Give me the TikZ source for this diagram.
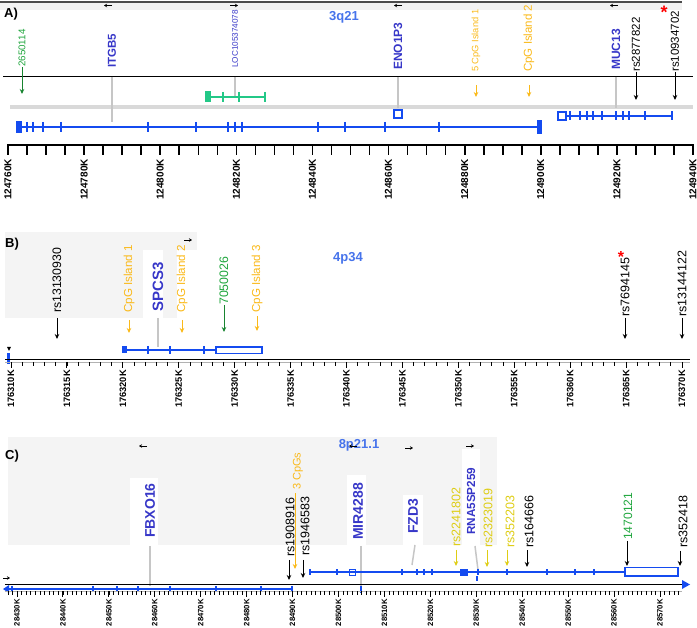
\documentclass[tikz,border=0pt]{standalone}
\usepackage{fontspec}
\setmainfont{Liberation Sans}
\usetikzlibrary{arrows.meta}

\definecolor{genetxt}{RGB}{55,55,200}
\definecolor{geneblue}{RGB}{20,75,240}
\definecolor{bandtxt}{RGB}{70,115,235}
\definecolor{cpggold}{RGB}{250,185,25}
\definecolor{snpyellow}{RGB}{222,205,20}
\definecolor{snpgreen}{RGB}{30,165,60}
\definecolor{exongreen}{RGB}{35,200,135}
\definecolor{panelgray}{RGB}{244,244,244}
\newcommand{\fsz}[1]{\fontsize{#1}{#1}\selectfont}

\begin{document}
\begin{tikzpicture}[x=1pt,y=-1pt,
 lbl/.style={rotate=90,anchor=west,inner sep=0pt},
 axlbl/.style={rotate=90,anchor=east,inner sep=0pt,font=\fsz{#1}\bfseries},
 hd/.style={font=\fsz{13}\bfseries,anchor=west,inner sep=0pt},
 band/.style={font=\fsz{13}\bfseries,text=bandtxt,inner sep=0pt},
 arr/.style={-{Stealth[length=5pt,width=4.5pt]},line width=1pt},
 strand/.style={-{Stealth[length=3pt,width=3.5pt]},line width=0.8pt},
 gline/.style={gray!45,line width=1.5pt},
 exon/.style={geneblue,line width=2pt}]
\useasboundingbox (0,0) rectangle (697,628);
% A) 3q21
\fill[gray!10] (0,2) rectangle (682,10);
\draw[gray!60!black,line width=1.5pt] (0,2) -- (682,2);
\node[hd] (hA) at (4,14) {A)};
\node[band] (bA) at (344,17) {3q21};
\foreach \x in {108,398,614} \draw[strand] (\x+4,5.5) -- (\x-4,5.5);
\draw[strand] (230,5.5) -- (238,5.5);
\node[text=red,font=\fsz{18}\bfseries,inner sep=0pt] (stA) at (664,12) {*};
\draw[line width=1pt] (3,77) -- (693,77);
\draw[gray!30,line width=4pt] (10,107) -- (693,107);
\node[lbl,text=snpgreen,font=\fsz{9.8}] (s2650114) at (22,67) {2650114};
\draw[arr,snpgreen!80!black] (s2650114.west) -- ++(0,27);
\node[lbl,text=genetxt,font=\fsz{11.5}\bfseries] (gITGB5) at (112,68) {ITGB5};
\draw[gline] (gITGB5.west) ++(0,9) -- ++(0,45);
\node[lbl,text=genetxt,font=\fsz{8.2}] (gLOC) at (235,68) {LOC105374078};
\draw[gline] (gLOC.west) ++(0,9) -- ++(0,20);
\node[lbl,text=genetxt,font=\fsz{12}\bfseries] (gENO) at (398,70) {ENO1P3};
\draw[gline] (gENO.west) ++(0,7) -- ++(0,31);
\node[lbl,text=cpggold,font=\fsz{9.3}] (cA1) at (476,72) {5 CpG Island 1};
\draw[arr,cpggold] (cA1.west) ++(0,13) -- ++(0,12);
\node[lbl,text=cpggold,font=\fsz{11.5}] (cA2) at (529,72) {CpG Island 2};
\draw[arr,cpggold] (cA2.west) ++(0,13) -- ++(0,12);
\node[lbl,text=genetxt,font=\fsz{12}\bfseries] (gMUC) at (616,70) {MUC13};
\draw[gline] (gMUC.west) ++(0,7) -- ++(0,31);
\node[lbl,font=\fsz{11.5}] (s2877822) at (636,72) {rs2877822};
\draw[arr] (s2877822.west) -- ++(0,28);
\node[lbl,font=\fsz{11.5}] (s10934702) at (675,72) {rs10934702};
\draw[arr] (s10934702.west) -- ++(0,28);
% genes
\draw[exongreen,line width=2.5pt] (208,97) -- (265,97);
\fill[exongreen] (205,91.5) rectangle (211,102.5);
\foreach \x in {223,239,265} \draw[exongreen,line width=2pt] (\x,92) -- (\x,102);
\draw[geneblue,line width=2.5pt] (19,127) -- (540,127);
\fill[geneblue] (16,121) rectangle (22,133);
\fill[geneblue] (537,120) rectangle (542,134);
\foreach \x in {27,33,43,61,148,196,228,235,242,318,345,385,439}
  \draw[exon] (\x,122) -- (\x,132);
\draw[exon] (394,110) rectangle (402,118);
\draw[exon] (566,116) -- (672,116);
\draw[exon] (558,112) rectangle (566,120);
\foreach \x in {570,580,587,593,602,616,623,629,645,672} \draw[exon] (\x,111.5) -- (\x,120.5);
% scale
\draw[line width=2pt] (7,145) -- (694,145);
\foreach \i in {0,...,36} \draw[line width=1.6pt] (8+19.03*\i,145) -- (8+19.03*\i,155);
\foreach \i in {0,...,9}{
  \edef\kb{\the\numexpr124760+20*\i\relax}
  \node[axlbl=10] (tA\i) at (8+76.11*\i,159) {\kb K};
}

% B) 4p34
\fill[panelgray] (5,232) rectangle (197,250);
\fill[panelgray] (5,250) rectangle (143,318);
\fill[panelgray] (163,250) rectangle (177,318);
\node[hd] (hB) at (5,244) {B)};
\node[band] (bB) at (348,258) {4p34};
\draw[strand] (184,240) -- (192,240);
\node[lbl,font=\fsz{12.3}] (s13130930) at (57,313) {rs13130930};
\draw[arr] (s13130930.west) ++(0,5) -- ++(0,21);
\node[lbl,text=cpggold,font=\fsz{11.6}] (cB1) at (129,313) {CpG Island 1};
\draw[arr,cpggold] (cB1.west) ++(0,7) -- ++(0,13);
\node[lbl,text=genetxt,font=\fsz{15}\bfseries] (gSPCS3) at (158,312) {SPCS3};
\draw[gline] (gSPCS3.west) ++(0,6) -- ++(0,29);
\node[lbl,text=cpggold,font=\fsz{11.6}] (cB2) at (182,313) {CpG Island 2};
\draw[arr,cpggold] (cB2.west) ++(0,7) -- ++(0,13);
\node[lbl,text=snpgreen,font=\fsz{12.3}] (s7050026) at (224,305) {7050026};
\draw[arr,snpgreen!80!black] (s7050026.west) -- ++(0,27);
\node[lbl,text=cpggold,font=\fsz{11.6}] (cB3) at (257,313) {CpG Island 3};
\draw[arr,cpggold] (cB3.west) ++(0,3) -- ++(0,15);
\node[lbl,font=\fsz{12.5}] (s7694145) at (625,317) {rs7694145};
\node[text=red,font=\fsz{16}\bfseries,inner sep=0pt] (stB) at (621,257) {*};
\draw[arr] (s7694145.west) ++(0,1) -- ++(0,21);
\node[lbl,font=\fsz{12.5}] (s13144122) at (682,317) {rs13144122};
\draw[arr] (s13144122.west) ++(0,1) -- ++(0,21);
% gene
\draw[geneblue,line width=1.5pt] (124,350) -- (216,350);
\fill[geneblue] (122,346.5) rectangle (127,353.5);
\foreach \x in {148,170,204} \draw[exon,line width=1.5pt] (\x,346) -- (\x,354);
\draw[geneblue,line width=1.3pt] (216,347) rectangle (262,353.5);
\fill[geneblue] (7,353) rectangle (10,364);
\fill (7,347) -- (11,347) -- (9,351) -- cycle;
% scale
\draw[line width=1.1pt] (5,359.5) -- (690,359.5);
\draw[gray!60,line width=0.5pt] (5,362.5) -- (690,362.5);
\foreach \i in {0,...,60} \draw[line width=0.8pt] (11+11.183*\i,362.5) -- (11+11.183*\i,366.5);
\foreach \i in {0,...,12}{
  \edef\kb{\the\numexpr176310+5*\i\relax}
  \draw[line width=1pt] (11+55.92*\i,362.5) -- (11+55.92*\i,368);
  \node[axlbl=9.3] (tB\i) at (11+55.92*\i,370) {\kb K};
}

% C) 8p21.1
\fill[panelgray] (8,437) rectangle (497,545);
\fill[white] (130,478) rectangle (158,545);
\fill[white] (347,475) rectangle (366,545);
\fill[white] (403,495) rectangle (423,545);
\fill[white] (462,449) rectangle (480,545);
\node[hd] (hC) at (5,456) {C)};
\node[band] (bC) at (359,445) {8p21.1};
\foreach \x in {143,353} \draw[strand] (\x+4,446) -- (\x-4,446);
\draw[strand] (405,448) -- (413,448);
\draw[strand] (466,446) -- (474,446);
\node[lbl,text=genetxt,font=\fsz{14}\bfseries] (gFBXO16) at (150,538) {FBXO16};
\draw[gline] (gFBXO16.west) ++(0,8) -- ++(0,40);
\node[lbl,text=cpggold,font=\fsz{11}] (c3CpG) at (298,490) {3 CpGs};
\draw[arr,cpggold] (c3CpG.west) ++(-3,3) -- ++(0,76);
\node[lbl,font=\fsz{12.5}] (s1908916) at (290,557) {rs1908916};
\draw[arr] (s1908916.west) ++(-1,3) -- ++(0,20);
\node[lbl,font=\fsz{12.5}] (s1946583) at (305,556) {rs1946583};
\draw[arr] (s1946583.west) ++(-2,4) -- ++(0,18);
\node[lbl,text=genetxt,font=\fsz{14}\bfseries] (gMIR) at (358,540) {MIR4288};
\draw[gline] (gMIR.west) ++(3,6) -- ++(0,44);
\node[lbl,text=genetxt,font=\fsz{14}\bfseries] (gFZD3) at (413,534) {FZD3};
\draw[gline] (gFZD3.west) ++(2,11) -- ++(-3,20);
\node[lbl,text=snpyellow,font=\fsz{12.5}] (s2241802) at (456,547) {rs2241802};
\draw[arr,snpyellow] (s2241802.west) ++(0,3) -- ++(0,16);
\node[lbl,text=genetxt,font=\fsz{11.7}\bfseries] (gRNA) at (471,535) {RNA5SP259};
\draw[gline] (gRNA.west) ++(4,11) -- ++(3,24);
\node[lbl,text=snpyellow,font=\fsz{12.5}] (s2323019) at (488,548) {rs2323019};
\draw[arr,snpyellow] (s2323019.west) ++(-1,2) -- ++(0,17);
\node[lbl,text=snpyellow,font=\fsz{12.5}] (s352203) at (510,548) {rs352203};
\draw[arr,snpyellow] (s352203.west) ++(-3,2) -- ++(0,16);
\node[lbl,font=\fsz{12.5}] (s164666) at (529,548) {rs164666};
\draw[arr] (s164666.west) ++(-2,2) -- ++(0,17);
\node[lbl,text=snpgreen,font=\fsz{12.1}] (s1470121) at (628,540) {1470121};
\draw[arr] (s1470121.west) ++(-1,1) -- ++(0,25);
\node[lbl,font=\fsz{12.5}] (s352418) at (683,548) {rs352418};
\draw[arr] (s352418.west) ++(-3,3) -- ++(0,15);
% genes
\draw[geneblue,line width=1.2pt] (310,572) -- (625,572);
\foreach \x in {310,337,402,417,424,432,478,507,547,575,594} \draw[geneblue,line width=1.6pt] (\x,569) -- (\x,575);
\draw[geneblue,line width=1pt] (349,569) rectangle (355,575);
\fill[geneblue] (460,568.5) rectangle (468,575.5);
\draw[geneblue,line width=1.3pt] (625,567.5) rectangle (678,576);
\draw[geneblue,line width=1.5pt] (477,576) -- (477,581);
\draw[line width=1pt] (5,584.5) -- (682,584.5);
\fill[geneblue] (682,580) -- (690,584.5) -- (682,589) -- cycle;
\draw[geneblue,line width=1.5pt] (361,586) -- (361,593);
\draw[geneblue,line width=1.2pt] (8,589) -- (292,589);
\foreach \x in {12,93,117,138,170,216,261,292} \draw[geneblue,line width=1.6pt] (\x,586) -- (\x,592);
\fill[geneblue] (3,589) -- (9,585) -- (9,593) -- cycle;
\draw[strand] (3,578) -- (10,578);
% scale
\draw[gray!60,line width=0.5pt] (5,591) -- (682,591);
\foreach \i in {-2,...,144} \draw[line width=0.6pt] (17+4.593*\i,591) -- (17+4.593*\i,595);
\foreach \i in {0,...,14}{
  \edef\kb{\the\numexpr28430+10*\i\relax}
  \draw[line width=1pt] (17+45.93*\i,591) -- (17+45.93*\i,597);
  \node[axlbl=7.7] (tC\i) at (17+45.93*\i,599) {\kb K};
}
\end{tikzpicture}
\end{document}
